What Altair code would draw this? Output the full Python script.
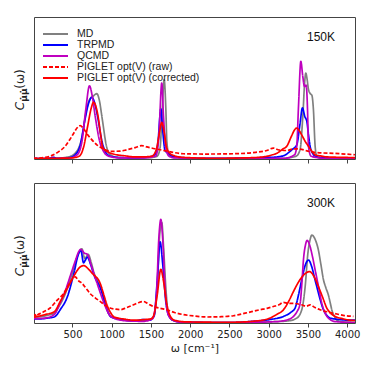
import altair as alt
import pandas as pd

SERIES = ["MD", "TRPMD", "QCMD", "PIGLET opt(V) (raw)", "PIGLET opt(V) (corrected)"]
COLORS = ["#808080", "#0000ff", "#bf00bf", "#ff0000", "#ff0000"]
DASHES = [[1, 0], [1, 0], [1, 0], [4, 2], [1, 0]]
X_TICKS = [500, 1000, 1500, 2000, 2500, 3000, 3500, 4000]

# ---------------- 150 K ----------------
md150_w = [0, 300, 450, 550, 620, 680, 730, 760, 790, 811, 840, 880, 930, 980, 1100, 1300, 1500, 1580, 1617, 1640, 1668, 1690, 1703, 1730, 1800, 2200, 2800, 3200, 3350, 3400, 3435, 3460, 3473, 3490, 3507, 3530, 3550, 3570, 3592, 3613, 3650, 3800, 4100]
md150_y = [0.003, 0.005, 0.015, 0.05, 0.15, 0.35, 0.43, 0.44, 0.455, 0.46, 0.42, 0.28, 0.10, 0.03, 0.01, 0.008, 0.01, 0.02, 0.08, 0.30, 0.56, 0.35, 0.12, 0.03, 0.01, 0.003, 0.003, 0.005, 0.02, 0.065, 0.30, 0.55, 0.605, 0.56, 0.49, 0.46, 0.45, 0.35, 0.09, 0.02, 0.008, 0.003, 0.002]

tr150_w = [0, 200, 259, 300, 450, 535, 600, 660, 710, 747, 780, 820, 870, 920, 980, 1100, 1300, 1450, 1550, 1590, 1626, 1650, 1680, 1720, 1800, 2200, 2800, 3050, 3188, 3295, 3358, 3400, 3430, 3460, 3486, 3510, 3528, 3560, 3613, 3800, 4100]
tr150_y = [0.002, 0.004, 0.012, 0.004, 0.008, 0.03, 0.10, 0.28, 0.40, 0.434, 0.40, 0.30, 0.14, 0.05, 0.02, 0.01, 0.008, 0.012, 0.03, 0.12, 0.354, 0.20, 0.06, 0.04, 0.015, 0.004, 0.008, 0.012, 0.023, 0.065, 0.10, 0.25, 0.36, 0.30, 0.265, 0.16, 0.09, 0.04, 0.015, 0.005, 0.003]

qc150_w = [0, 450, 560, 620, 670, 717, 750, 790, 840, 900, 960, 1100, 1400, 1560, 1600, 1638, 1660, 1690, 1730, 1800, 2500, 3200, 3330, 3358, 3380, 3410, 3435, 3457, 3477, 3495, 3507, 3540, 3700, 4100]
qc150_y = [0.002, 0.005, 0.03, 0.12, 0.35, 0.516, 0.45, 0.30, 0.14, 0.05, 0.02, 0.008, 0.008, 0.02, 0.15, 0.535, 0.30, 0.08, 0.02, 0.008, 0.002, 0.005, 0.03, 0.09, 0.37, 0.687, 0.58, 0.51, 0.52, 0.35, 0.09, 0.02, 0.005, 0.002]

raw150_w = [0, 100, 216, 320, 407, 470, 514, 560, 598, 640, 683, 740, 811, 900, 980, 1100, 1193, 1300, 1384, 1450, 1550, 1617, 1750, 1915, 2200, 2551, 2800, 2976, 3061, 3120, 3231, 3320, 3401, 3500, 3613, 3825, 4100]
raw150_y = [0.005, 0.008, 0.02, 0.05, 0.09, 0.14, 0.18, 0.22, 0.235, 0.215, 0.18, 0.14, 0.10, 0.07, 0.054, 0.055, 0.065, 0.08, 0.094, 0.085, 0.072, 0.065, 0.05, 0.037, 0.035, 0.037, 0.045, 0.06, 0.077, 0.065, 0.06, 0.072, 0.07, 0.055, 0.045, 0.04, 0.03]

cor150_w = [0, 300, 500, 586, 640, 690, 740, 768, 781, 820, 860, 882, 930, 968, 1060, 1160, 1287, 1400, 1511, 1570, 1610, 1638, 1665, 1700, 1750, 1787, 1900, 2300, 2700, 2933, 3050, 3104, 3180, 3231, 3290, 3330, 3358, 3390, 3430, 3470, 3507, 3550, 3592, 3680, 3740, 3900, 4100]
cor150_y = [0.003, 0.005, 0.008, 0.02, 0.08, 0.22, 0.36, 0.40, 0.394, 0.32, 0.17, 0.09, 0.055, 0.045, 0.03, 0.023, 0.015, 0.015, 0.02, 0.07, 0.19, 0.258, 0.20, 0.08, 0.035, 0.025, 0.012, 0.005, 0.008, 0.015, 0.03, 0.04, 0.07, 0.09, 0.16, 0.205, 0.218, 0.20, 0.16, 0.12, 0.09, 0.055, 0.03, 0.02, 0.015, 0.012, 0.01]

# ---------------- 300 K ----------------
md300_w = [0, 100, 216, 267, 330, 395, 460, 522, 580, 620, 658, 700, 740, 776, 820, 862, 895, 925, 960, 989, 1117, 1300, 1450, 1530, 1580, 1610, 1638, 1660, 1690, 1723, 1780, 1900, 2500, 3000, 3250, 3358, 3422, 3465, 3500, 3530, 3550, 3590, 3634, 3665, 3698, 3730, 3761, 3790, 3804, 3840, 3868, 3950, 4100]
md300_y = [0.04, 0.045, 0.06, 0.07, 0.12, 0.19, 0.29, 0.40, 0.50, 0.53, 0.46, 0.49, 0.43, 0.355, 0.30, 0.25, 0.19, 0.13, 0.07, 0.047, 0.028, 0.015, 0.02, 0.04, 0.25, 0.62, 0.72, 0.55, 0.25, 0.06, 0.02, 0.005, 0.003, 0.008, 0.015, 0.035, 0.095, 0.26, 0.50, 0.60, 0.628, 0.60, 0.52, 0.42, 0.31, 0.25, 0.20, 0.13, 0.095, 0.045, 0.02, 0.008, 0.005]

tr300_w = [0, 97, 180, 267, 350, 437, 520, 575, 607, 641, 665, 691, 730, 776, 862, 925, 989, 1117, 1300, 1400, 1480, 1540, 1580, 1617, 1650, 1690, 1730, 1800, 1950, 2500, 2800, 3018, 3189, 3280, 3337, 3380, 3422, 3470, 3507, 3550, 3590, 3613, 3660, 3698, 3740, 3783, 3900, 4038, 4100]
tr300_y = [0.03, 0.03, 0.035, 0.043, 0.10, 0.19, 0.36, 0.49, 0.52, 0.43, 0.45, 0.47, 0.42, 0.34, 0.24, 0.12, 0.045, 0.025, 0.015, 0.025, 0.02, 0.05, 0.30, 0.58, 0.42, 0.15, 0.05, 0.015, 0.005, 0.003, 0.012, 0.025, 0.047, 0.075, 0.107, 0.20, 0.31, 0.42, 0.45, 0.40, 0.31, 0.26, 0.16, 0.095, 0.055, 0.035, 0.025, 0.02, 0.02]

qc300_w = [0, 150, 267, 340, 415, 480, 540, 580, 607, 650, 691, 740, 798, 840, 883, 925, 968, 1050, 1200, 1400, 1520, 1570, 1600, 1626, 1650, 1680, 1720, 1780, 1900, 2500, 3100, 3250, 3316, 3360, 3401, 3425, 3443, 3470, 3490, 3520, 3560, 3592, 3635, 3677, 3720, 3761, 3847, 4100]
qc300_y = [0.03, 0.035, 0.06, 0.14, 0.24, 0.35, 0.45, 0.51, 0.526, 0.50, 0.49, 0.41, 0.31, 0.24, 0.17, 0.11, 0.06, 0.03, 0.015, 0.012, 0.03, 0.20, 0.60, 0.74, 0.60, 0.25, 0.06, 0.02, 0.005, 0.002, 0.01, 0.025, 0.047, 0.08, 0.14, 0.30, 0.45, 0.56, 0.59, 0.56, 0.47, 0.38, 0.26, 0.14, 0.07, 0.035, 0.01, 0.003]

raw300_w = [10, 25, 40, 60, 100, 150, 216, 300, 386, 460, 535, 580, 620, 670, 725, 790, 853, 920, 980, 1040, 1108, 1190, 1278, 1340, 1405, 1470, 1533, 1620, 1703, 1800, 1915, 2050, 2212, 2400, 2552, 2700, 2892, 2980, 3061, 3130, 3189, 3250, 3316, 3420, 3480, 3528, 3590, 3655, 3740, 3825, 3950, 4080]
raw300_y = [0.05, 0.06, 0.045, 0.06, 0.07, 0.085, 0.107, 0.16, 0.21, 0.28, 0.33, 0.30, 0.285, 0.25, 0.21, 0.18, 0.154, 0.125, 0.107, 0.10, 0.095, 0.11, 0.13, 0.145, 0.154, 0.135, 0.118, 0.105, 0.095, 0.075, 0.06, 0.05, 0.043, 0.045, 0.052, 0.07, 0.095, 0.105, 0.118, 0.13, 0.147, 0.14, 0.14, 0.13, 0.12, 0.13, 0.11, 0.095, 0.08, 0.07, 0.055, 0.047]

cor300_w = [0, 55, 150, 267, 350, 437, 522, 580, 641, 713, 760, 798, 830, 862, 900, 946, 990, 1032, 1159, 1300, 1420, 1500, 1533, 1580, 1626, 1660, 1700, 1745, 1800, 1950, 2500, 2849, 3018, 3100, 3189, 3260, 3316, 3400, 3460, 3520, 3580, 3634, 3690, 3740, 3790, 3847, 3950, 4038, 4100]
cor300_y = [0.04, 0.047, 0.06, 0.08, 0.16, 0.25, 0.34, 0.39, 0.41, 0.38, 0.35, 0.33, 0.31, 0.27, 0.20, 0.12, 0.07, 0.043, 0.028, 0.02, 0.025, 0.03, 0.05, 0.20, 0.384, 0.30, 0.14, 0.05, 0.02, 0.008, 0.005, 0.015, 0.035, 0.06, 0.095, 0.16, 0.225, 0.31, 0.35, 0.367, 0.33, 0.26, 0.18, 0.107, 0.07, 0.047, 0.03, 0.02, 0.018]


def frame(curves):
    rows = []
    for name, (ws, ys) in zip(SERIES, curves):
        for w, v in zip(ws, ys):
            rows.append({"omega": w, "val": v, "series": name})
    return pd.DataFrame(rows)


df150 = frame([(md150_w, md150_y), (tr150_w, tr150_y), (qc150_w, qc150_y), (raw150_w, raw150_y), (cor150_w, cor150_y)])
df300 = frame([(md300_w, md300_y), (tr300_w, tr300_y), (qc300_w, qc300_y), (raw300_w, raw300_y), (cor300_w, cor300_y)])

AX = "#444444"
LABEL_FONT = "Liberation Sans"


def panel(df, temp, height, bottom, show_legend):
    xaxis = alt.Axis(values=X_TICKS, labels=bottom, format="d", ticks=True, tickSize=4, tickColor=AX,
                     domain=False, grid=False, labelFont="DejaVu Sans", labelFontSize=10,
                     labelColor="#222", title="ω  [cm⁻¹]" if bottom else None,
                     titleFont="DejaVu Sans", titleFontSize=11, titleFontWeight="normal",
                     titleColor="#222", titlePadding=3, labelPadding=2)
    if show_legend:
        legend = alt.Legend(title=None, orient="none", legendX=8, legendY=12,
                            symbolType="stroke", symbolSize=625, symbolStrokeWidth=1.8,
                            labelFont=LABEL_FONT, labelFontSize=10.5, labelColor="#222",
                            labelOffset=8, rowPadding=-1.3, clipHeight=10, padding=0)
    else:
        legend = None
    base = alt.Chart(df)
    layers = []
    for name in SERIES:
        layers.append(
            base.transform_filter(alt.datum.series == name).mark_line(
                interpolate="monotone", strokeWidth=1.7, clip=True
            ).encode(
                x=alt.X("omega:Q", scale=alt.Scale(domain=[10, 4100], nice=False, zero=False), axis=xaxis),
                y=alt.Y("val:Q", scale=alt.Scale(domain=[0, 1], nice=False), axis=None),
                color=alt.Color("series:N", scale=alt.Scale(domain=SERIES, range=COLORS), legend=legend),
                strokeDash=alt.StrokeDash("series:N", scale=alt.Scale(domain=SERIES, range=DASHES), legend=legend),
            )
        )
    lab = alt.Chart(pd.DataFrame({"k": [0]}))
    yc = 76
    layers.append(lab.mark_text(font="DejaVu Sans", fontSize=12, fontStyle="italic", angle=270,
                                align="center", baseline="middle", color="#222").encode(
        x=alt.value(-14), y=alt.value(yc + 13), text=alt.value("C")))
    layers.append(lab.mark_text(font="DejaVu Sans", fontSize=9, fontWeight="bold", angle=270,
                                align="center", baseline="middle", color="#222").encode(
        x=alt.value(-10), y=alt.value(yc + 2), text=alt.value("μ̇μ̇")))
    layers.append(lab.mark_text(font="DejaVu Sans", fontSize=12, angle=270,
                                align="center", baseline="middle", color="#222").encode(
        x=alt.value(-14), y=alt.value(yc - 14), text=alt.value("(ω)")))
    layers.append(lab.mark_text(font=LABEL_FONT, fontSize=12, align="right", baseline="middle",
                                color="#111").encode(
        x=alt.value(301), y=alt.value(20), text=alt.value(temp)))
    return alt.layer(*layers).properties(width=321, height=height)


top = panel(df150, "150K", 142, False, True)
bot = panel(df300, "300K", 140, True, False)

chart = alt.vconcat(top, bot, spacing=18).resolve_scale(
    color="independent", strokeDash="independent"
).configure_view(stroke=AX, strokeWidth=1).properties(
    padding={"left": 5, "top": 8, "right": 5, "bottom": 5},
    background="white",
)

chart.save("out.html", embed_options={"renderer": "svg", "actions": False})
